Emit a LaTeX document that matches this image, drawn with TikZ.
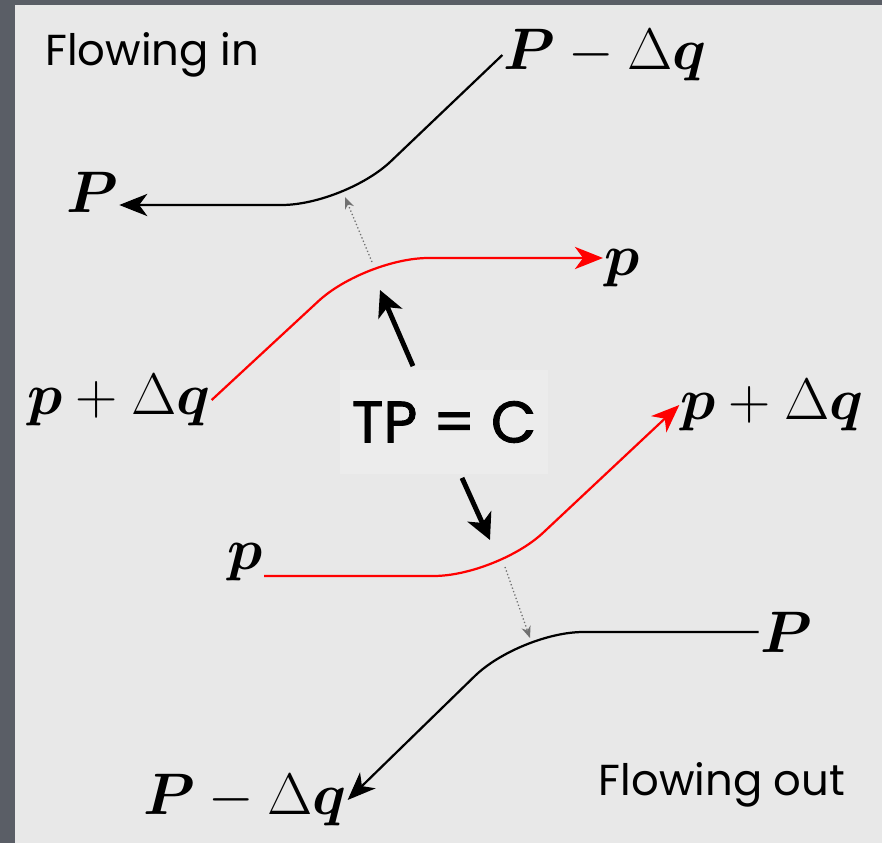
\RequirePackage{fix-cm}
\documentclass[tikz,border=0pt]{standalone}
\usepackage{amsmath,amssymb}
\usepackage{fontspec}
\newfontfamily\handfont{Poppins}
\newfontfamily\handheavy[FakeBold=1.5]{Poppins}
\usepackage{tikz}
\usetikzlibrary{arrows.meta,positioning,calc}
\definecolor{Slate}{HTML}{5A5E66}
\definecolor{Panel}{HTML}{E8E8E8}
\definecolor{BoxGray}{HTML}{ECECEC}
\definecolor{HintGray}{HTML}{707070}

\begin{document}
\begin{tikzpicture}[
    x=0.03cm,y=-0.03cm,
    lbl/.style={inner sep=1pt,font=\fontsize{50}{60}\selectfont},
    note/.style={inner sep=0pt,font=\handfont\fontsize{37}{44}\selectfont},
    blk/.style={black,line width=1.9pt,rounded corners=1.9cm},
    rd/.style={red,line width=1.9pt,rounded corners=1.9cm},
    tip/.style={-{Stealth[length=24pt,width=19pt,inset=7pt]}},
    hint/.style={HintGray,dotted,line width=1.1pt,-{Stealth[length=10pt,width=8pt]}},
    pointer/.style={line width=4.2pt,-{Stealth[length=22pt,width=22pt,inset=6pt]}}
  ]
  % Frame
  \fill[Slate] (0,0) rectangle (882,843);
  \fill[Panel] (15,5) rectangle (882,843);
  \useasboundingbox (0,0) rectangle (882,843);
  % Captions
  \node[note] (fin) at (152,55) {Flowing in};
  \node[note] (fout) at (722,785) {Flowing out};
  % Labels, flowing in
  \node[lbl] (Ptop) at (605,55) {$\boldsymbol{P}-\Delta\boldsymbol{q}$};
  \node[lbl] (Pleft) at (92,192) {$\boldsymbol{P}$};
  \node[lbl] (pright) at (622,268) {$\boldsymbol{p}$};
  \node[lbl] (pqleft) at (119,400) {$\boldsymbol{p}+\Delta\boldsymbol{q}$};
  % Labels, flowing out
  \node[lbl] (pqright) at (772,405) {$\boldsymbol{p}+\Delta\boldsymbol{q}$};
  \node[lbl] (pbot) at (245,562) {$\boldsymbol{p}$};
  \node[lbl] (Pright) at (786,632) {$\boldsymbol{P}$};
  \node[lbl] (Pbot) at (245,800) {$\boldsymbol{P}-\Delta\boldsymbol{q}$};
  % Bends
  \coordinate (k1) at (345,205);
  \coordinate (k2) at (365,258);
  \coordinate (k3) at (497,576);
  \coordinate (k4) at (520,632);
  % Curves
  \draw[blk,tip] (Ptop.west) -- (k1) -- (Pleft.east |- k1);
  \draw[rd,tip] (pqleft.east) -- (k2) -- (pright.west |- k2);
  \draw[rd,tip] (pbot.east |- k3) -- (k3) -- (pqright.west);
  \draw[blk,tip] (Pright.west |- k4) -- (k4) -- (Pbot.east);
  % Shifts
  \coordinate (h1) at (372,262);
  \coordinate (h2) at (345,197);
  \coordinate (h3) at (505,567);
  \coordinate (h4) at (530,638);
  \draw[hint] (h1) -- (h2);
  \draw[hint] (h3) -- (h4);
  % Tangency
  \node[fill=BoxGray,minimum width=6.24cm,minimum height=3.1cm,
        font=\handheavy\fontsize{50}{60}\selectfont] (tp) at (444,422) {TP = C};
  \coordinate (t1) at (380,290);
  \coordinate (t2) at (490,540);
  \draw[pointer] ($(tp.north)+(-31,-4)$) -- (t1);
  \draw[pointer] ($(tp.south)+(18,4)$) -- (t2);
\end{tikzpicture}
\end{document}
